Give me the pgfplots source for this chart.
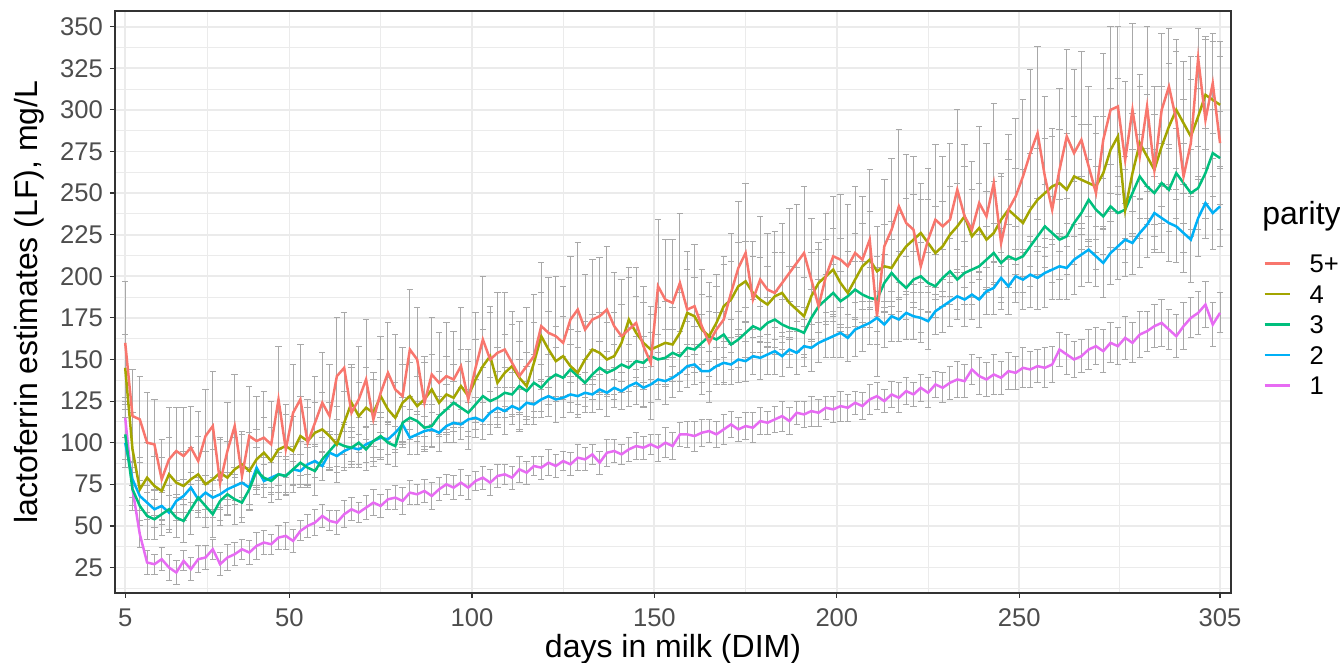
\documentclass[border=0pt]{standalone}
\usepackage{pgfplots}
\pgfplotsset{compat=1.18}
\usepackage{pgfplotstable}
\usepackage{fontspec}
\setmainfont{Liberation Sans}
\definecolor{c5}{HTML}{F8766D}
\definecolor{c4}{HTML}{A3A500}
\definecolor{c3}{HTML}{00BF7D}
\definecolor{c2}{HTML}{00B0F6}
\definecolor{c1}{HTML}{E76BF3}
\definecolor{errgray}{HTML}{A8A8A8}
\definecolor{gridgray}{HTML}{EBEBEB}
\definecolor{framec}{HTML}{333333}
\definecolor{ticktext}{HTML}{4D4D4D}

\pgfplotstableread{
x y1 e1 y2 e2 y3 e3 y4 e4 y5 e5
5 115 12 100 15 105 15 145 20 160 37
7 72 10 78 11 72 13 96 22 116 28
9 45 8 68 9 62 12 72 19 114 26
11 28 7 64 10 56 14 79 21 100 30
13 27 6 60 11 54 12 74 18 99 27
15 30 7 62 9 57 13 71 20 78 24
17 25 8 58 10 60 14 81 22 90 31
19 22 7 65 12 55 12 76 18 95 26
21 29 6 68 10 53 13 74 21 92 29
23 24 7 73 9 60 15 78 19 97 25
25 30 8 66 11 67 12 81 23 89 30
27 31 7 70 10 62 13 75 20 104 28
29 36 6 67 12 57 14 78 18 110 33
31 27 7 69 9 65 12 82 21 76 26
33 31 8 72 10 69 13 79 22 95 29
35 33 7 74 11 66 15 84 19 110 31
37 36 6 76 9 64 12 87 20 80 25
39 34 7 73 10 72 13 83 23 104 30
41 38 8 85 12 83 14 90 18 101 27
43 40 7 77 10 79 12 94 21 103 28
45 39 6 79 9 77 13 89 20 99 26
47 43 7 81 11 81 15 96 22 126 32
49 44 8 80 10 80 12 98 19 96 27
51 41 7 84 9 84 14 95 21 118 29
53 47 6 83 10 88 13 104 24 126 33
55 50 7 87 12 85 12 101 20 100 26
57 52 8 89 10 83 15 106 18 112 28
59 56 7 86 9 90 13 108 22 124 30
61 53 6 94 11 95 12 104 20 116 31
63 52 7 92 10 100 14 99 23 140 35
65 57 8 95 12 98 13 112 19 145 33
67 60 7 97 10 97 12 124 21 118 29
69 58 6 96 9 100 15 116 20 126 32
71 61 7 99 11 96 13 121 24 138 36
73 64 8 101 10 101 12 118 20 114 28
75 62 7 103 12 104 14 128 22 130 34
77 66 6 102 9 100 13 120 19 142 30
79 67 7 106 10 98 12 115 21 132 33
81 65 8 111 11 112 15 124 23 128 29
83 70 7 103 10 115 13 128 20 156 36
85 69 6 105 12 113 12 122 18 150 31
87 71 7 107 9 109 14 126 22 124 28
89 68 8 108 10 110 13 132 21 141 34
91 72 7 106 11 116 12 124 19 136 30
93 75 6 110 10 120 15 129 23 140 32
95 73 7 112 12 124 13 127 20 138 29
97 76 8 111 9 121 12 134 22 146 35
99 73 7 114 10 118 14 128 21 126 30
101 77 6 115 12 123 15 138 24 145 33
103 79 7 113 11 128 17 146 22 162 38
105 76 8 118 13 125 14 152 26 150 32
107 80 7 121 12 127 16 136 21 154 36
109 81 6 119 14 130 15 142 23 156 34
111 79 7 122 11 129 13 146 25 148 31
113 84 8 120 12 134 16 139 22 140 33
115 82 7 124 13 131 15 134 20 146 35
117 86 6 123 12 136 17 148 24 152 37
119 85 7 126 11 133 14 164 26 170 38
121 88 8 128 12 138 15 156 23 166 33
123 86 7 126 14 141 16 149 21 164 36
125 89 6 127 12 139 13 152 24 160 34
127 87 7 129 11 144 15 146 22 174 38
129 91 8 128 13 140 17 142 25 180 40
131 90 7 130 12 136 14 150 23 168 33
133 93 6 129 11 141 15 156 21 174 36
135 88 7 132 12 145 16 154 24 176 35
137 94 8 130 14 142 13 150 22 180 38
139 95 7 133 12 144 15 152 26 170 32
141 93 6 131 11 147 17 160 23 164 34
143 96 7 134 12 145 14 174 25 168 37
145 98 8 136 13 149 15 166 22 172 33
147 97 7 133 12 148 16 160 24 158 36
149 99 6 135 11 152 14 156 21 148 34
151 97 8 138 12 150 15 158 23 194 40
153 100 9 137 14 151 17 160 25 186 36
155 98 8 139 12 154 14 159 22 184 38
157 105 7 142 11 152 15 166 24 196 42
159 105 8 146 13 157 16 178 26 180 35
161 104 9 147 12 156 14 176 23 182 37
163 106 8 143 14 160 17 168 21 170 34
165 107 7 143 12 164 15 164 24 160 36
167 105 8 146 11 162 16 172 22 168 33
169 108 9 148 13 165 14 182 25 174 38
171 111 8 147 12 159 15 186 23 190 36
173 108 7 150 14 162 17 194 26 205 40
175 110 8 149 12 166 15 197 24 214 42
177 109 9 152 11 170 16 190 22 186 35
179 113 8 151 13 168 14 186 25 198 38
181 112 7 153 12 172 15 183 23 192 34
183 114 8 155 14 174 17 188 26 190 37
185 116 9 152 12 171 15 190 24 196 36
187 113 8 156 11 169 16 184 22 202 39
189 118 7 154 13 168 14 180 25 208 35
191 117 8 158 12 166 15 176 23 214 40
193 119 9 157 14 175 17 188 26 198 37
195 118 8 160 12 182 16 196 24 182 34
197 121 7 162 11 186 15 200 22 200 38
199 120 8 164 13 190 17 204 25 212 36
201 122 9 166 15 185 18 196 27 210 39
203 121 8 163 14 188 19 190 25 206 37
205 124 7 168 16 192 17 198 28 214 40
207 122 8 170 15 189 20 206 26 210 38
209 126 9 172 13 187 18 210 29 222 42
211 128 8 175 16 186 19 203 27 176 36
213 125 7 171 14 196 17 206 25 218 40
215 129 8 176 15 202 20 205 28 228 43
217 127 9 174 13 197 18 212 26 242 46
219 131 8 178 16 193 19 218 29 232 41
221 129 7 176 14 198 17 222 27 228 44
223 133 8 175 15 200 20 226 30 206 40
225 130 9 173 17 196 18 220 26 222 43
227 135 8 179 14 194 19 214 28 234 45
229 133 9 182 16 199 17 218 27 230 42
231 136 10 185 15 203 20 225 29 234 46
233 138 11 188 14 198 18 230 26 252 48
235 137 10 186 16 202 19 236 30 236 43
237 144 9 189 15 204 21 224 28 228 41
239 140 11 186 17 206 19 229 27 244 46
241 138 10 191 14 210 20 222 29 236 44
243 141 12 193 16 214 18 226 31 256 48
245 139 10 199 15 208 21 234 28 220 40
247 143 11 194 17 212 19 240 30 240 45
249 142 10 200 16 210 20 236 29 248 47
251 145 12 198 18 212 22 232 32 260 46
253 144 11 201 20 218 24 240 34 274 50
255 146 10 199 19 224 23 246 31 286 52
257 145 12 202 21 230 25 250 33 260 48
259 147 11 204 18 226 22 254 35 240 44
261 156 10 206 20 222 24 256 32 264 49
263 153 12 205 19 224 23 252 34 284 52
265 150 11 210 21 232 25 260 36 274 50
267 152 10 213 19 238 22 258 33 282 53
269 156 12 216 20 246 24 256 35 266 48
271 158 11 212 18 240 26 254 32 250 46
273 155 13 208 21 236 23 262 34 282 52
275 160 12 214 19 242 25 276 37 300 50
277 158 11 218 20 238 22 284 35 302 48
279 163 13 222 22 240 24 240 32 270 47
281 160 12 220 19 250 26 262 36 300 52
283 165 14 226 21 260 25 280 34 272 49
285 167 12 231 20 254 23 272 37 302 48
287 170 13 238 22 250 26 264 33 264 50
289 172 14 235 21 256 24 278 36 300 46
291 168 12 232 23 252 25 290 38 314 35
293 164 13 230 22 262 27 300 35 294 48
295 170 14 226 24 256 24 292 37 260 46
297 175 12 222 26 250 26 284 34 280 52
299 178 13 235 23 253 25 296 36 331 18
301 183 14 244 21 262 27 309 33 294 50
303 171 13 238 22 274 26 306 35 316 30
305 178 12 242 24 271 28 303 38 280 52
}\data

\pgfplotsset{
  errstyle/.style={draw=none, forget plot, error bars/.cd, y dir=both, y explicit,
    error mark=-,
    error bar style={draw=errgray, line width=0.5pt},
    error mark options={rotate=90, draw=errgray, line width=0.5pt, mark size=1.6pt}},
}

\begin{document}
\begin{tikzpicture}
\path[use as bounding box] (-57.5pt,-35pt) rectangle (612.5pt,296.5pt);
\begin{axis}[
  name=ax,
  at={(0pt,0pt)}, anchor=south west,
  scale only axis, width=558pt, height=291pt,
  xmin=2.2, xmax=308, ymin=9.7, ymax=359.4,
  xtick={5,50,100,150,200,250,305},
  minor xtick={27.5,75,125,175,225,277.5},
  ytick={25,50,...,350},
  minor ytick={12.5,37.5,...,337.5},
  grid=both,
  major grid style={draw=gridgray, line width=0.9pt},
  minor grid style={draw=gridgray, line width=0.5pt},
  axis line style={draw=framec, line width=0.6pt},
  tick pos=left, tick align=outside,
  major tick length=2.5pt, minor tick length=0pt,
  major tick style={draw=framec, line width=0.6pt},
  /pgf/number format/assume math mode=true,
  tick label style={font=\fontsize{12.8}{15}\selectfont, text=ticktext},
  xticklabel style={yshift=-2pt},
  xlabel={days in milk (DIM)},
  ylabel={lactoferrin estimates (LF), mg/L},
  label style={font=\fontsize{16}{19}\selectfont},
  xlabel style={at={(axis description cs:0.5,-0.110)}, anchor=base},
  ylabel style={at={(axis description cs:-0.069,0.5)}, anchor=base},
  legend cell align=left,
  legend image code/.code={\draw[#1] (0pt,0pt) -- (12.5pt,0pt);},
  legend style={draw=none, fill=none, inner sep=0pt,
    at={(axis description cs:1.0287,0.5828)}, anchor=north west,
    font=\fontsize{12.8}{15}\selectfont, row sep=6.05pt, column sep=0pt,
    /tikz/every odd column/.append style={column sep=9.5pt},
    nodes={inner sep=0pt, text height=9.2pt, text depth=0pt}},
]
\addplot[errstyle] table[x=x, y=y5, y error=e5]{\data};
\addplot[errstyle] table[x=x, y=y4, y error=e4]{\data};
\addplot[errstyle] table[x=x, y=y3, y error=e3]{\data};
\addplot[errstyle] table[x=x, y=y2, y error=e2]{\data};
\addplot[errstyle] table[x=x, y=y1, y error=e1]{\data};

\addplot[c1, line width=1.25pt, forget plot] table[x=x, y=y1]{\data};
\addplot[c2, line width=1.25pt, forget plot] table[x=x, y=y2]{\data};
\addplot[c3, line width=1.25pt, forget plot] table[x=x, y=y3]{\data};
\addplot[c4, line width=1.25pt, forget plot] table[x=x, y=y4]{\data};
\addplot[c5, line width=1.25pt, forget plot] table[x=x, y=y5]{\data};

\addlegendimage{c5, line width=1.1pt}\addlegendentry{5+}
\addlegendimage{c4, line width=1.1pt}\addlegendentry{4}
\addlegendimage{c3, line width=1.1pt}\addlegendentry{3}
\addlegendimage{c2, line width=1.1pt}\addlegendentry{2}
\addlegendimage{c1, line width=1.1pt}\addlegendentry{1}
\end{axis}
\node[anchor=base west, inner sep=0pt, font=\fontsize{16}{19}\selectfont]
  at ([xshift=573.5pt, yshift=184pt]ax.south west) {parity};
\end{tikzpicture}
\end{document}
